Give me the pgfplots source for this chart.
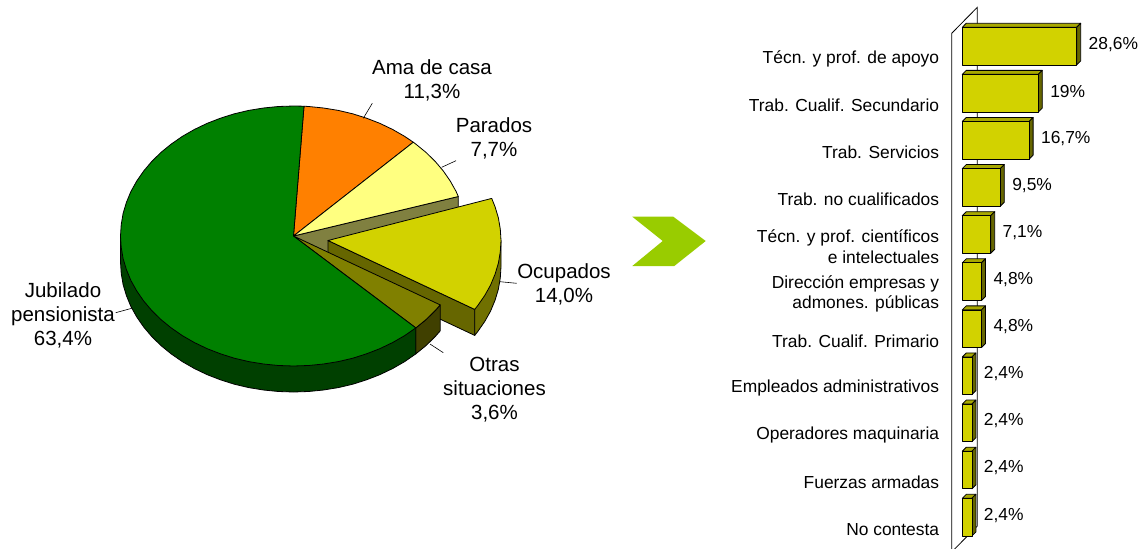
\documentclass[border=0pt]{standalone}
\usepackage{pgfplots}
\usepackage{fontspec}
\setmainfont{Liberation Sans}
\pgfplotsset{compat=1.18}
\definecolor{cgreen}{HTML}{008000}
\definecolor{cgreenD}{HTML}{004000}
\definecolor{corange}{HTML}{FF8000}
\definecolor{cpale}{HTML}{FFFF80}
\definecolor{cwall}{HTML}{808040}
\definecolor{cyel}{HTML}{D2D200}
\definecolor{cside}{HTML}{666600}
\definecolor{colive}{HTML}{808000}
\definecolor{coliveD}{HTML}{404000}
\definecolor{ctop}{HTML}{A8A800}
\definecolor{carrow}{HTML}{99CC00}
\newcommand{\piefont}{\fontsize{20.5pt}{24pt}\selectfont}
\newcommand{\barfont}{\fontsize{17.4pt}{20.5pt}\selectfont}
\tikzset{face/.style={draw=black,line width=0.8pt,line join=round}}
\begin{document}
\begin{tikzpicture}
\path[use as bounding box] (0,0) rectangle (1141pt,549pt);
% pie, in picture pixels
\begin{axis}[
    at={(0,0)},anchor=south west,
    scale only axis,width=1141pt,height=549pt,
    xmin=0,xmax=1141,ymin=0,ymax=549,y dir=reverse,
    hide axis]
% inner wall of the pale slice
\addplot[face,fill=cwall] coordinates {(293.5,236) (458.3,196.5) (458.3,222.5) (293.5,262)} -- cycle;
% Ama de casa
\addplot[face,fill=corange] coordinates {(293.5,236) (304,106.2) (308.6,106.5) (323.5,108) (338.3,110.4) (352.7,113.8) (366.6,118.2) (380,123.4) (392.7,129.5) (404.7,136.4) (413.3,142.2)} -- cycle;
% Parados
\addplot[face,fill=cpale] coordinates {(293.5,236) (413.3,142.2) (415.8,144.1) (426,152.4) (435.2,161.4) (443.3,171) (450.3,181.1) (456.1,191.5) (458.3,196.5)} -- cycle;
% Ocupados, pulled out
\addplot[face,fill=cside] coordinates {(328,240.5) (474.7,309.4) (474.7,335.4) (328,266.5)} -- cycle;
\addplot[face,fill=cside!110!black] coordinates {(501,240.5) (474.7,309.4) (474.7,335.4) (477.8,331.5) (484.8,321.4) (490.6,311) (495.1,300.1) (498.4,289.1) (500.3,277.8) (501,266.5)} -- cycle;
\addplot[face,fill=cyel] coordinates {(328,240.5) (491.7,198.4) (495.1,206.9) (498.4,217.9) (500.3,229.2) (501,240.5) (500.3,251.8) (498.4,263.1) (495.1,274.1) (490.6,285) (484.8,295.4) (477.8,305.5) (474.7,309.4)} -- cycle;
% Otras situaciones
\addplot[face,fill=coliveD] coordinates {(440.2,304.9) (435.2,310.6) (426,319.6) (415.8,327.9) (415.8,353.9) (426,345.6) (435.2,336.6) (440.2,330.9)} -- cycle;
\addplot[face,fill=colive] coordinates {(293.5,236) (440.2,304.9) (435.2,310.6) (426,319.6) (415.8,327.9)} -- cycle;
% Jubilado pensionista
\addplot[face,fill=cgreenD] coordinates {(120.5,236) (120.5,262) (121.2,273.3) (123.1,284.6) (126.4,295.6) (130.9,306.5) (136.7,316.9) (143.7,327) (151.8,336.6) (161,345.6) (171.2,353.9) (182.3,361.6) (194.3,368.5) (207,374.6) (220.4,379.8) (234.3,384.2) (248.7,387.6) (263.5,390) (278.4,391.5) (293.5,392) (308.6,391.5) (323.5,390) (338.3,387.6) (352.8,384.2) (366.6,379.8) (380,374.6) (392.7,368.5) (404.7,361.6) (415.8,353.9) (415.8,327.9)} -- cycle;
\addplot[face,fill=cgreen] coordinates {(293.5,236) (304,106.2) (293.5,106) (278.4,106.5) (263.5,108) (248.7,110.4) (234.3,113.8) (220.4,118.2) (207,123.4) (194.3,129.5) (182.3,136.4) (171.2,144.1) (161,152.4) (151.8,161.4) (143.7,171) (136.7,181.1) (130.9,191.5) (126.4,202.4) (123.1,213.4) (121.2,224.7) (120.5,236) (121.2,247.3) (123.1,258.6) (126.4,269.6) (130.9,280.5) (136.7,290.9) (143.7,301) (151.8,310.6) (161,319.6) (171.2,327.9) (182.3,335.6) (194.3,342.5) (207,348.6) (220.4,353.8) (234.3,358.2) (248.7,361.6) (263.5,364) (278.4,365.5) (293.5,366) (308.6,365.5) (323.5,364) (338.3,361.6) (352.8,358.2) (366.6,353.8) (380,348.6) (392.7,342.5) (404.7,335.6) (415.8,327.9)} -- cycle;
% leader lines
\addplot[black,line width=0.6pt] coordinates {(372.3,103.3) (363.3,118.3)};
\addplot[black,line width=0.6pt] coordinates {(456,160.7) (441.7,167.3)};
\addplot[black,line width=0.6pt] coordinates {(500,281.7) (516.7,283.3)};
\addplot[black,line width=0.6pt] coordinates {(430,344) (443.3,352.7)};
\addplot[black,line width=0.6pt] coordinates {(131.7,308.3) (115.7,312.7)};
% labels
\node[font=\piefont,align=center] at (432,80) {Ama de casa\\11,3\%};
\node[font=\piefont,align=center] at (494,138) {Parados\\7,7\%};
\node[font=\piefont,align=center] at (564,284.5) {Ocupados\\14,0\%};
\node[font=\piefont,align=center] at (494.5,390) {Otras\\situaciones\\3,6\%};
\node[font=\piefont,align=center] at (63,315) {Jubilado\\pensionista\\63,4\%};
% arrow
\addplot[fill=carrow,draw=none] coordinates {(632.3,216.7) (673.3,216.7) (705.7,241) (674.3,266) (632.3,266) (662.7,241)} -- cycle;
% bar chart walls
\addplot[black,line width=0.8pt] coordinates {(951.7,552) (951.7,33.3) (977.3,7.3) (977.3,526) (951.7,552)};
\end{axis}
% bars: one x unit is 4 px, one category is 47.1 px
\begin{axis}[
    at={(962.3pt,8.35pt)},anchor=south west,
    x=4pt,y=47.1pt,
    xmin=0,xmax=40,ymin=-0.5,ymax=10.5,y dir=reverse,
    clip=false,
    axis line style={draw=none},
    tick style={draw=none},
    xtick=\empty,
    ytick={0,1,2,3,4,5,6,7,8,9,10},
    yticklabels={
        {Técn. y prof. de apoyo},
        {Trab. Cualif. Secundario},
        {Trab. Servicios},
        {Trab. no cualificados},
        {Técn. y prof. científicos\\e intelectuales},
        {Dirección empresas y\\admones. públicas},
        {Trab. Cualif. Primario},
        {Empleados administrativos},
        {Operadores maquinaria},
        {Fuerzas armadas},
        {No contesta}},
    yticklabel style={font=\barfont,align=right,anchor=east,inner sep=0pt,xshift=-23pt,yshift=-12.3pt}]
\addplot[face,fill=ctop] coordinates {(0,-.4) (1,-.485) (29.6,-.485) (28.6,-.4)} -- cycle;
\addplot[face,fill=cside] coordinates {(28.6,-.4) (29.6,-.485) (29.6,.315) (28.6,.4)} -- cycle;
\addplot[face,fill=ctop] coordinates {(0,.6) (1,.515) (20,.515) (19,.6)} -- cycle;
\addplot[face,fill=cside] coordinates {(19,.6) (20,.515) (20,1.315) (19,1.4)} -- cycle;
\addplot[face,fill=ctop] coordinates {(0,1.6) (1,1.515) (17.7,1.515) (16.7,1.6)} -- cycle;
\addplot[face,fill=cside] coordinates {(16.7,1.6) (17.7,1.515) (17.7,2.315) (16.7,2.4)} -- cycle;
\addplot[face,fill=ctop] coordinates {(0,2.6) (1,2.515) (10.5,2.515) (9.5,2.6)} -- cycle;
\addplot[face,fill=cside] coordinates {(9.5,2.6) (10.5,2.515) (10.5,3.315) (9.5,3.4)} -- cycle;
\addplot[face,fill=ctop] coordinates {(0,3.6) (1,3.515) (8.1,3.515) (7.1,3.6)} -- cycle;
\addplot[face,fill=cside] coordinates {(7.1,3.6) (8.1,3.515) (8.1,4.315) (7.1,4.4)} -- cycle;
\addplot[face,fill=ctop] coordinates {(0,4.6) (1,4.515) (5.8,4.515) (4.8,4.6)} -- cycle;
\addplot[face,fill=cside] coordinates {(4.8,4.6) (5.8,4.515) (5.8,5.315) (4.8,5.4)} -- cycle;
\addplot[face,fill=ctop] coordinates {(0,5.6) (1,5.515) (5.8,5.515) (4.8,5.6)} -- cycle;
\addplot[face,fill=cside] coordinates {(4.8,5.6) (5.8,5.515) (5.8,6.315) (4.8,6.4)} -- cycle;
\addplot[face,fill=ctop] coordinates {(0,6.6) (1,6.515) (3.4,6.515) (2.4,6.6)} -- cycle;
\addplot[face,fill=cside] coordinates {(2.4,6.6) (3.4,6.515) (3.4,7.315) (2.4,7.4)} -- cycle;
\addplot[face,fill=ctop] coordinates {(0,7.6) (1,7.515) (3.4,7.515) (2.4,7.6)} -- cycle;
\addplot[face,fill=cside] coordinates {(2.4,7.6) (3.4,7.515) (3.4,8.315) (2.4,8.4)} -- cycle;
\addplot[face,fill=ctop] coordinates {(0,8.6) (1,8.515) (3.4,8.515) (2.4,8.6)} -- cycle;
\addplot[face,fill=cside] coordinates {(2.4,8.6) (3.4,8.515) (3.4,9.315) (2.4,9.4)} -- cycle;
\addplot[face,fill=ctop] coordinates {(0,9.6) (1,9.515) (3.4,9.515) (2.4,9.6)} -- cycle;
\addplot[face,fill=cside] coordinates {(2.4,9.6) (3.4,9.515) (3.4,10.315) (2.4,10.4)} -- cycle;
\addplot[xbar,bar width=37.6pt,face,fill=cyel,point meta=x,
    nodes near coords={\pgfmathprintnumber[fixed,precision=1,use comma,assume math mode=true]{\pgfplotspointmeta}\%},
    nodes near coords style={font=\barfont,anchor=west,inner sep=0pt,xshift=11.6pt,yshift=2pt,text=black}]
    coordinates {(28.6,0) (19,1) (16.7,2) (9.5,3) (7.1,4) (4.8,5) (4.8,6) (2.4,7) (2.4,8) (2.4,9) (2.4,10)};
\end{axis}
\end{tikzpicture}
\end{document}
